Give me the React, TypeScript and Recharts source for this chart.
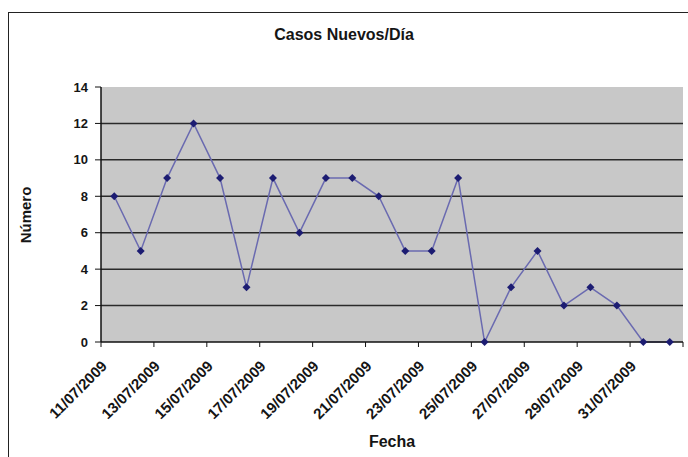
import { CartesianGrid, Line, LineChart, XAxis, YAxis } from "recharts"

const fechas = [
  "11/07/2009", "12/07/2009", "13/07/2009", "14/07/2009", "15/07/2009", "16/07/2009",
  "17/07/2009", "18/07/2009", "19/07/2009", "20/07/2009", "21/07/2009", "22/07/2009",
  "23/07/2009", "24/07/2009", "25/07/2009", "26/07/2009", "27/07/2009", "28/07/2009",
  "29/07/2009", "30/07/2009", "31/07/2009", "01/08/2009",
]
const casos = [8, 5, 9, 12, 9, 3, 9, 6, 9, 9, 8, 5, 5, 9, 0, 3, 5, 2, 3, 2, 0, 0]

// Excel-style: ticks sit between categories, every second one labelled
const xTicks = [-0.5, 1.5, 3.5, 5.5, 7.5, 9.5, 11.5, 13.5, 15.5, 17.5, 19.5, 21.5]
const yTicks = [0, 2, 4, 6, 8, 10, 12, 14]
const gridValues = [2, 4, 6, 8, 10, 12]

const font = "'Liberation Sans', Arial, sans-serif"

const data = casos.map((v, i) => ({ idx: i, fecha: fechas[i], casos: v }))

function XTick({ x, y, payload }: any) {
  const i = Math.round(payload.value + 0.5)
  const label = payload.value < 21 ? fechas[i] : ""
  return (
    <text
      transform={`translate(${x + 7},${y + 20}) rotate(-45)`}
      textAnchor="end"
      fontFamily={font}
      fontWeight="bold"
      fontSize={15}
      fill="#151515"
    >
      {label}
    </text>
  )
}

function Diamond({ cx, cy, index }: any) {
  return (
    <path
      key={index}
      d={`M${cx},${cy - 4}L${cx + 4},${cy}L${cx},${cy + 4}L${cx - 4},${cy}Z`}
      fill="#1c1c72"
    />
  )
}

export default function App() {
  return (
    <div style={{ position: "absolute", left: 0, top: 0, width: 688, height: 457, overflow: "hidden", background: "#fff" }}>
      <div
        style={{
          position: "absolute",
          left: 8,
          top: 12,
          width: 700,
          height: 470,
          borderLeft: "1px solid #222",
          borderTop: "1px solid #222",
        }}
      />
      <LineChart
        width={688}
        height={457}
        data={data}
        margin={{ top: 87, right: 5, bottom: 0, left: 71 }}
      >
        <CartesianGrid
          vertical={false}
          horizontalValues={gridValues}
          stroke="#2a2a2a"
          strokeWidth={1.5}
          fill="#c8c8c8"
          fillOpacity={1}
        />
        <XAxis
          type="number"
          dataKey="idx"
          domain={[-0.5, 21.5]}
          ticks={xTicks}
          interval={0}
          height={115}
          tickSize={5}
          tickMargin={0}
          axisLine={{ stroke: "#111", strokeWidth: 1.5 }}
          tickLine={{ stroke: "#111" }}
          tick={<XTick />}
        />
        <YAxis
          domain={[0, 14]}
          ticks={yTicks}
          width={30}
          tickSize={6}
          tickMargin={7}
          axisLine={{ stroke: "#111", strokeWidth: 1.5 }}
          tickLine={{ stroke: "#111" }}
          tick={{ fontFamily: font, fontWeight: "bold", fontSize: 13, fill: "#151515" }}
        />
        <Line
          type="linear"
          dataKey="casos"
          stroke="#6a6ab0"
          strokeWidth={1.5}
          dot={<Diamond />}
          isAnimationActive={false}
        />
      </LineChart>
      <div
        style={{
          position: "absolute",
          left: 0,
          width: 688,
          top: 26,
          textAlign: "center",
          fontFamily: font,
          fontWeight: "bold",
          fontSize: 16,
          color: "#151515",
        }}
      >
        Casos Nuevos/Día
      </div>
      <div
        style={{
          position: "absolute",
          left: 392,
          top: 442,
          transform: "translate(-50%,-50%)",
          fontFamily: font,
          fontWeight: "bold",
          fontSize: 16,
          color: "#151515",
        }}
      >
        Fecha
      </div>
      <div
        style={{
          position: "absolute",
          left: 25,
          top: 215,
          transform: "translate(-50%,-50%) rotate(-90deg)",
          fontFamily: font,
          fontWeight: "bold",
          fontSize: 15,
          color: "#151515",
          whiteSpace: "nowrap",
        }}
      >
        Número
      </div>
    </div>
  )
}
